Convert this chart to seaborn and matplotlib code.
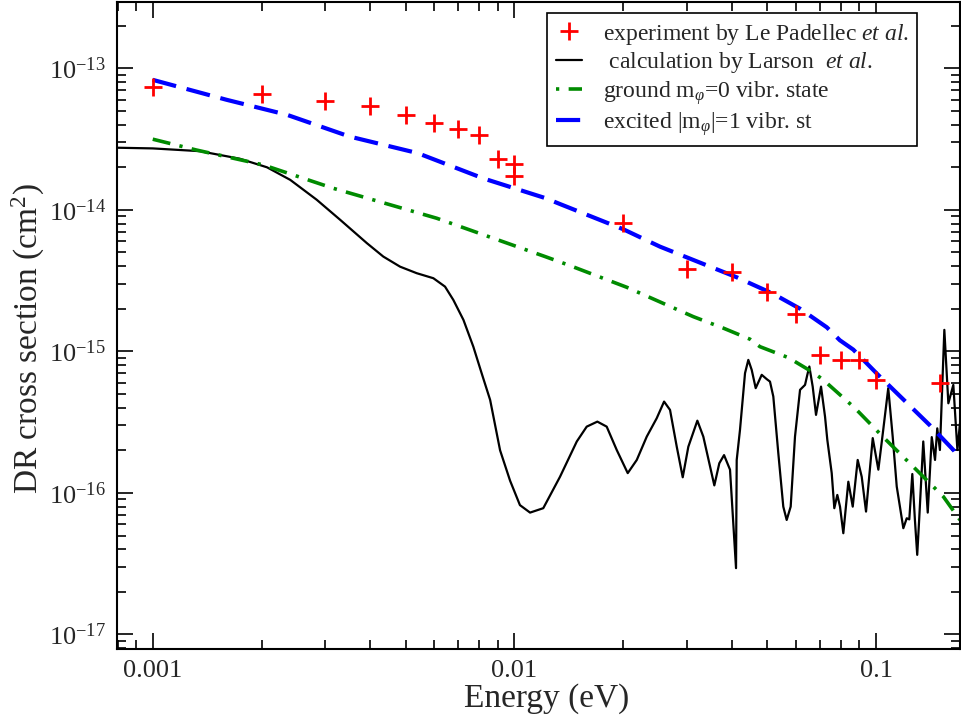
import math
import matplotlib
matplotlib.use('Agg')
import matplotlib.pyplot as plt
import seaborn as sns
from matplotlib.lines import Line2D
from matplotlib.ticker import LogLocator, FuncFormatter, NullFormatter, FixedLocator

# ---------------- data ----------------
exp_E = [0.001, 0.002, 0.003, 0.004, 0.005, 0.006, 0.007, 0.008, 0.009, 0.01, 0.01,
         0.02, 0.03, 0.04, 0.05, 0.06, 0.07, 0.08, 0.09, 0.1, 0.15]
exp_S = [7.4e-14, 6.6e-14, 5.9e-14, 5.4e-14, 4.7e-14, 4.14e-14, 3.72e-14, 3.39e-14, 2.28e-14,
         2.11e-14, 1.74e-14, 8.1e-15, 3.83e-15, 3.66e-15, 2.65e-15, 1.84e-15, 9.5e-16,
         8.7e-16, 8.7e-16, 6.3e-16, 5.96e-16]

larson_E = [0.000798, 0.001, 0.00135, 0.00174, 0.00207, 0.0024, 0.00284, 0.0033, 0.00391, 0.00434,
            0.00483, 0.00537, 0.00597, 0.00643, 0.00678, 0.00723, 0.0077, 0.00812, 0.00857, 0.00913,
            0.00973, 0.01036, 0.01105, 0.01202, 0.01337, 0.01488, 0.01585, 0.01696, 0.018, 0.01919,
            0.02058, 0.0218, 0.02323, 0.02475, 0.02594, 0.02694, 0.02812, 0.02921, 0.03027, 0.03206,
            0.0333, 0.03572, 0.03687, 0.038, 0.03947, 0.04101, 0.04119, 0.04206, 0.04343, 0.04435,
            0.04532, 0.04648, 0.0483, 0.04986, 0.05091, 0.052, 0.05368, 0.05541, 0.05662, 0.05808,
            0.0597, 0.06165, 0.06364, 0.06457, 0.06541, 0.06682, 0.06825, 0.07046, 0.07228, 0.07334,
            0.07542, 0.07668, 0.07816, 0.07951, 0.08121, 0.08384, 0.08622, 0.08899, 0.0913, 0.09384,
            0.09793, 0.1015, 0.1047, 0.1081, 0.1112, 0.1141, 0.119, 0.1216, 0.1236, 0.126,
            0.1281, 0.13, 0.1316, 0.1351, 0.139, 0.1426, 0.1456, 0.1477, 0.1502, 0.1545,
            0.1585, 0.1636, 0.1679, 0.1707]
larson_S = [2.75e-14, 2.72e-14, 2.6e-14, 2.3e-14, 2.0e-14, 1.63e-14, 1.18e-14, 8.5e-15, 5.82e-15, 4.68e-15,
            3.97e-15, 3.57e-15, 3.29e-15, 2.87e-15, 2.31e-15, 1.67e-15, 1.08e-15, 7.0e-16, 4.54e-16, 2.0e-16,
            1.22e-16, 8.2e-17, 7.26e-17, 7.8e-17, 1.3e-16, 2.31e-16, 2.94e-16, 3.19e-16, 2.94e-16, 2.01e-16,
            1.38e-16, 1.71e-16, 2.5e-16, 3.37e-16, 4.42e-16, 3.86e-16, 2.12e-16, 1.29e-16, 2.12e-16, 3.24e-16,
            2.5e-16, 1.13e-16, 1.62e-16, 1.85e-16, 1.46e-16, 2.94e-17, 1.71e-16, 2.79e-16, 7.02e-16, 8.71e-16,
            7.4e-16, 5.5e-16, 6.83e-16, 6.37e-16, 6.12e-16, 4.8e-16, 1.91e-16, 8.0e-17, 6.44e-17, 8.0e-17,
            2.5e-16, 5.35e-16, 5.8e-16, 6.83e-16, 7.82e-16, 5.64e-16, 3.56e-16, 5.64e-16, 3.46e-16, 2.37e-16,
            1.38e-16, 7.8e-17, 9.68e-17, 8.0e-17, 5.19e-17, 1.2e-16, 8.0e-17, 1.71e-16, 1.3e-16, 7.38e-17,
            2.44e-16, 1.46e-16, 2.79e-16, 5.5e-16, 2.5e-16, 1.11e-16, 5.63e-17, 6.62e-17, 6.5e-17, 1.36e-16,
            6.44e-17, 3.65e-17, 6.44e-17, 2.31e-16, 7.26e-17, 2.48e-16, 1.71e-16, 2.86e-16, 2.01e-16, 1.42e-15,
            4.3e-16, 5.8e-16, 2.01e-16, 3.11e-16]

ground_E = [0.001, 0.00132, 0.00202, 0.00316, 0.0061, 0.01216, 0.0141, 0.02045, 0.03125, 0.03784,
            0.04482, 0.04776, 0.05722, 0.0671, 0.0715, 0.08747, 0.1047, 0.1268, 0.1535, 0.1707]
ground_S = [3.16e-14, 2.65e-14, 2.08e-14, 1.42e-14, 8.73e-15, 4.68e-15, 4.08e-15, 2.84e-15, 1.76e-15, 1.46e-15,
            1.22e-15, 1.08e-15, 9.04e-16, 7.08e-16, 6.29e-16, 3.97e-16, 2.48e-16, 1.53e-16, 9.42e-17, 6.44e-17]

excited_E = [0.001, 0.0016, 0.00235, 0.0035, 0.0054, 0.0082, 0.0122, 0.01337, 0.02, 0.02527,
             0.0333, 0.0412, 0.052, 0.0617, 0.0731, 0.0794, 0.0865, 0.1015, 0.141, 0.164, 0.171]
excited_S = [8.3e-14, 6.0e-14, 4.7e-14, 3.3e-14, 2.52e-14, 1.67e-14, 1.21e-14, 1.10e-14, 7.3e-15, 5.5e-15,
             4.15e-15, 3.34e-15, 2.55e-15, 2.0e-15, 1.48e-15, 1.2e-15, 1.03e-15, 6.8e-16, 3.0e-16, 2.0e-16, 1.7e-16]

labels = ['experiment by Le Padellec $\\mathit{et\\ al.}$',
          ' calculation by Larson  $\\mathit{et\\ al.}$',
          'ground m$_{\\varphi}$=0 vibr. state',
          'excited |m$_{\\varphi}$|=1 vibr. st']
x_ticks = [0.001, 0.01, 0.1]
x_ticklabels = ['0.001', '0.01', '0.1']
y_ticks = [1e-17, 1e-16, 1e-15, 1e-14, 1e-13]

# ---------------- style ----------------
sns.set_style('ticks')
plt.rcParams['font.family'] = ['Liberation Serif', 'DejaVu Serif']
plt.rcParams['mathtext.fontset'] = 'custom'
plt.rcParams['mathtext.rm'] = 'Liberation Serif'
plt.rcParams['mathtext.it'] = 'Liberation Serif:italic'
plt.rcParams['mathtext.bf'] = 'Liberation Serif:bold'

fig = plt.figure(figsize=(9.61, 7.15), dpi=100)
ax = fig.add_axes([117.3 / 961, 1 - 649.3 / 715, (960 - 117.3) / 961, (649.3 - 1.7) / 715])
ax.set_xscale('log')
ax.set_yscale('log')

GREEN = '#008b00'
BLUE = '#0000ff'

sns.lineplot(x=larson_E, y=larson_S, ax=ax, color='black', linewidth=1.6,
             estimator=None, sort=False)
sns.lineplot(x=ground_E, y=ground_S, ax=ax, color=GREEN, linewidth=2.6,
             estimator=None, sort=False)
ax.lines[-1].set_dashes([5.0, 2.6, 0.9, 2.6])
sns.lineplot(x=excited_E, y=excited_S, ax=ax, color=BLUE, linewidth=3.0,
             estimator=None, sort=False)
ax.lines[-1].set_dashes([5.8, 2.6])
sns.scatterplot(x=exp_E, y=exp_S, ax=ax, marker='+', s=160, color='red',
                linewidth=2.0, zorder=5)

ax.set_xlim(7.98e-4, 0.1707)
ax.set_ylim(7.85e-18, 2.96e-13)

ax.xaxis.set_major_locator(FixedLocator(x_ticks))
ax.set_xticklabels(x_ticklabels)
ax.xaxis.set_minor_locator(LogLocator(base=10, subs=range(2, 10), numticks=20))
ax.xaxis.set_minor_formatter(NullFormatter())
ax.yaxis.set_major_locator(FixedLocator(y_ticks))
ax.yaxis.set_major_formatter(FuncFormatter(lambda v, p: '$10^{%d}$' % round(math.log10(v))))
ax.yaxis.set_minor_locator(LogLocator(base=10, subs=range(2, 10), numticks=20))
ax.yaxis.set_minor_formatter(NullFormatter())

ax.tick_params(which='both', direction='in', top=True, right=True, color='black')
ax.tick_params(which='major', length=11.5, width=1.2, labelsize=19, pad=8)
ax.tick_params(which='minor', length=6.5, width=1.2)
for sp in ax.spines.values():
    sp.set_linewidth(1.5)
    sp.set_color('black')

ax.set_xlabel('Energy (eV)', fontsize=24)
ax.set_ylabel('DR cross section (cm$^2$)', fontsize=24)
ax.xaxis.set_label_coords(0.51, -0.052)
ax.yaxis.set_label_coords(-0.083, 0.48)

handles = [Line2D([], [], marker='+', color='red', ls='none', markersize=13, mew=2),
           Line2D([], [], color='black', lw=1.6),
           Line2D([], [], color=GREEN, lw=2.6, dashes=[0.9, 2.6, 5.0, 2.6]),
           Line2D([], [], color=BLUE, lw=3.0, dashes=[5.8, 2.6])]
leg = ax.legend(handles, labels, loc='upper right', bbox_to_anchor=(0.949, 0.982),
                borderaxespad=0, fontsize=17, frameon=True, fancybox=False,
                framealpha=1, edgecolor='black', handlelength=1.1, handletextpad=0.9,
                labelspacing=0.15, borderpad=0.35)
leg.get_frame().set_linewidth(1.2)

fig.savefig('out.png', dpi=100)
